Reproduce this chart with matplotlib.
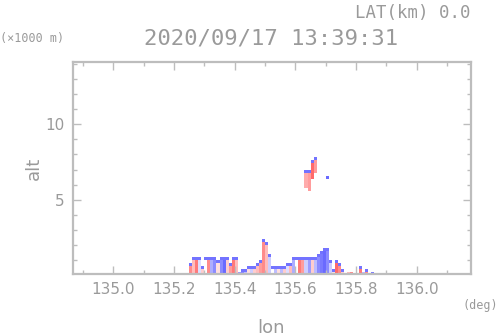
import numpy as np
import matplotlib
matplotlib.use('Agg')
from matplotlib import pyplot as plt
from matplotlib.colors import LinearSegmentedColormap
from matplotlib.ticker import MultipleLocator, FixedLocator

# vertical-section echo, one column per 0.01 deg of lon
LON_START = 135.25
LON_STEP = 0.01
# echo top (km) per column
col_top = [0.9, 1.2, 1.2, 1.2, 0.7, 1.2, 1.2, 1.2, 1.2, 1.0,
           1.2, 1.2, 1.2, 0.8, 1.2, 1.2, 0.3, 0.5, 0.5, 0.6,
           0.6, 0.6, 0.8, 1.0, 2.5, 2.2, 1.4, 0.7, 0.7, 0.6,
           0.6, 0.7, 0.8, 0.9, 1.2, 1.2, 1.2, 1.3, 1.2, 1.3,
           1.3, 1.2, 1.4, 1.6, 1.9, 1.9, 1.0, 0.5, 1.1, 0.8,
           0.5, 0.3, 0.3, 0.2, 0.0, 0.0, 0.6, 0.3, 0.5, 0.0,
           0.2]
# echo value per column (-1 blue .. +1 red)
col_val = [0.7, 0.4, 0.8, -0.2, 0.3, 0.0, 0.7, -0.5, -0.7, 0.2,
           -0.7, -0.9, 0.3, 0.6, 0.8, 0.4, -0.6, -0.7, -0.4, 0.2,
           -0.3, 0.3, 0.4, 0.6, 0.7, 0.4, -0.3, 0.0, -0.4, 0.2,
           -0.4, 0.3, -0.2, 0.4, -0.5, 0.0, 0.8, 0.6, -0.3, -0.6,
           0.3, -0.4, -0.7, -0.8, -0.9, -0.7, -0.3, 0.2, 0.9, 0.7,
           0.3, 0.0, 0.4, 0.7, 0.0, 0.0, 0.8, -0.4, 0.7, 0.0,
           -0.8]
EDGE_VAL = -0.85

# isolated upper echo: lon, bottom, top, value
up_lon = [135.63, 135.64, 135.65, 135.66, 135.70]
up_bot = [5.8, 5.6, 6.4, 6.8, 6.4]
up_top = [7.0, 7.0, 7.6, 7.8, 6.6]
up_val = [0.5, 0.6, 0.9, 0.6, -0.9]

ALT_STEP = 0.2

lon_edges = LON_START + LON_STEP * np.arange(len(col_top) + 1)
alt_edges = np.arange(0, 8.0 + ALT_STEP, ALT_STEP)
alt_mid = (alt_edges[:-1] + alt_edges[1:]) / 2
field = np.full((len(alt_mid), len(col_top)), np.nan)
for i in range(len(col_top)):
    inside = alt_mid < col_top[i]
    field[inside, i] = col_val[i]
    if inside.any() and col_top[i] > 0.3:
        field[np.where(inside)[0][-1], i] = EDGE_VAL
for lo, b, t, v in zip(up_lon, up_bot, up_top, up_val):
    i = int(round((lo - LON_START) / LON_STEP))
    rows = (alt_mid > b) & (alt_mid < t)
    field[rows, i] = v
    field[np.where(rows)[0][-1], i] = EDGE_VAL if v > 0 else v

cmap = LinearSegmentedColormap.from_list('bwr2', ['#5a5aff', '#ffffff', '#ff5a5a'])

GRAY = '#9a9a9a'
FRAME = '#bdbdbd'

fig = plt.figure(figsize=(4.98, 3.36), dpi=100)
ax = fig.add_axes([0.1466, 0.1845, 0.7992, 0.631])
ax.pcolormesh(lon_edges, alt_edges, np.ma.masked_invalid(field), cmap=cmap,
              vmin=-1, vmax=1, shading='flat')

ax.set_xlim(134.867, 136.179)
ax.set_ylim(0.1, 14.1)
ax.xaxis.set_major_locator(FixedLocator([135.0, 135.2, 135.4, 135.6, 135.8, 136.0]))
ax.xaxis.set_minor_locator(MultipleLocator(0.1))
ax.yaxis.set_major_locator(FixedLocator([5, 10]))
ax.yaxis.set_minor_locator(MultipleLocator(1))
ax.set_xticklabels(['135.0', '135.2', '135.4', '135.6', '135.8', '136.0'])
ax.set_yticklabels(['5', '10'])
ax.tick_params(which='both', direction='in', colors=FRAME, labelcolor=GRAY,
               top=True, right=True, width=1)
ax.tick_params(which='major', length=6, labelsize=11, pad=6)
ax.tick_params(which='minor', length=3)
for s in ax.spines.values():
    s.set_color(FRAME)
    s.set_linewidth(1.6)

fig.text(0.944, 0.962, 'LAT(km) 0.0', ha='right', va='center', color=GRAY,
         fontsize=12.5, family='DejaVu Sans Mono')
fig.text(0.545, 0.885, '2020/09/17 13:39:31', ha='center', va='center', color=GRAY,
         fontsize=16, family='DejaVu Sans Mono')
fig.text(0.0, 0.885, '(\u00d71000 m)', ha='left', va='center', color=GRAY,
         fontsize=8.5, family='DejaVu Sans Mono')
fig.text(0.068, 0.50, 'alt', ha='center', va='center', rotation=90, color=GRAY,
         fontsize=13)
fig.text(0.545, 0.025, 'lon', ha='center', va='center', color=GRAY, fontsize=13)
fig.text(1.0, 0.09, '(deg)', ha='right', va='center', color=GRAY,
         fontsize=8.5, family='DejaVu Sans Mono')

fig.savefig('out.png', dpi=100)
